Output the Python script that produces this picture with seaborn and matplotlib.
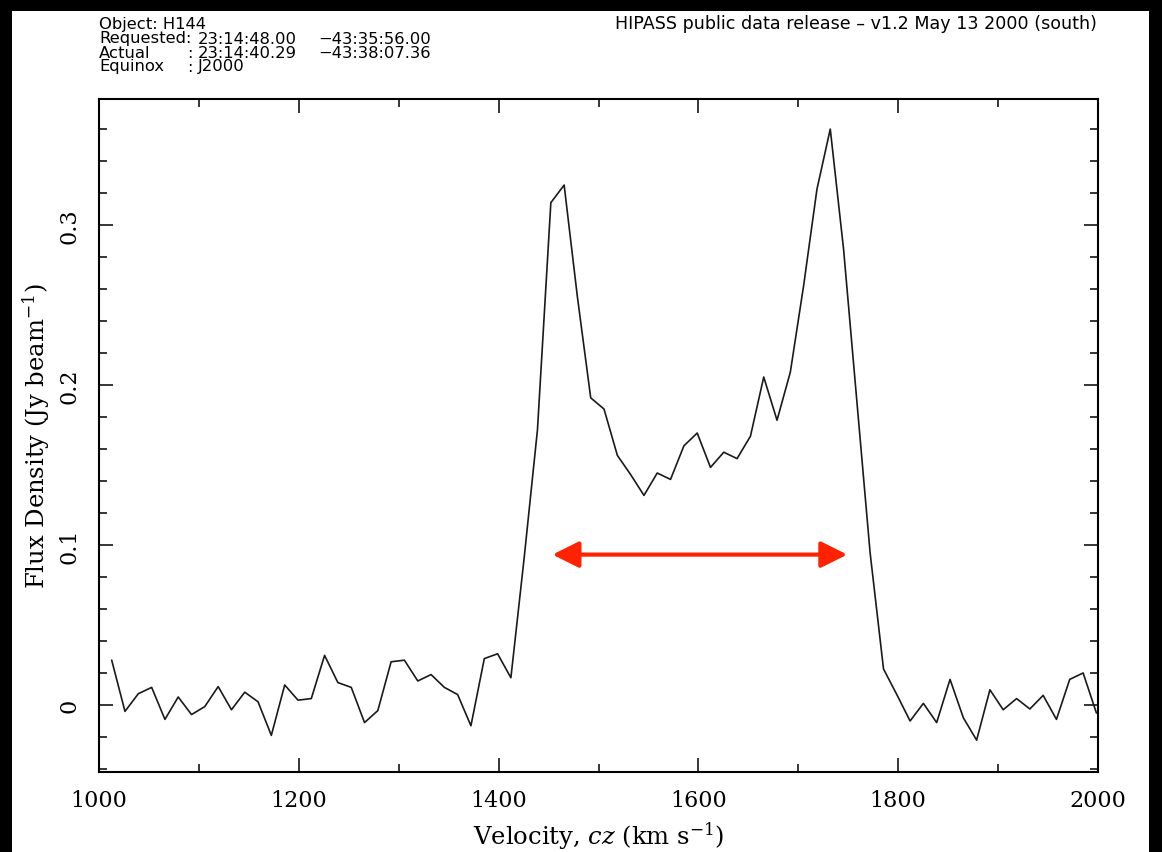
import numpy as np
import pandas as pd
import seaborn as sns
import matplotlib.pyplot as plt
from matplotlib.patches import Rectangle
from matplotlib.ticker import MultipleLocator

# HIPASS spectrum of H144
velocity = [
    1012.7, 1026.0, 1039.3, 1052.7, 1066.0, 1079.3, 1092.6, 1105.9, 1119.3, 1132.6,
    1145.9, 1159.2, 1172.5, 1185.9, 1199.2, 1212.5, 1225.8, 1239.1, 1252.5, 1265.8,
    1279.1, 1292.4, 1305.7, 1319.1, 1332.4, 1345.7, 1359.0, 1372.3, 1385.7, 1399.0,
    1412.3, 1425.6, 1438.9, 1452.3, 1465.6, 1478.9, 1492.2, 1505.5, 1518.9, 1532.2,
    1545.5, 1558.8, 1572.1, 1585.5, 1598.8, 1612.1, 1625.4, 1638.7, 1652.1, 1665.4,
    1678.7, 1692.0, 1705.3, 1718.7, 1732.0, 1745.3, 1758.6, 1771.9, 1785.3, 1798.6,
    1811.9, 1825.2, 1838.5, 1851.9, 1865.2, 1878.5, 1891.8, 1905.1, 1918.5, 1931.8,
    1945.1, 1958.4, 1971.7, 1985.1, 1998.4,
]
flux = [
    0.028, -0.004, 0.007, 0.011, -0.009, 0.005, -0.006, -0.001, 0.0115, -0.003,
    0.008, 0.002, -0.019, 0.0125, 0.003, 0.004, 0.031, 0.014, 0.011, -0.011,
    -0.0035, 0.027, 0.028, 0.015, 0.019, 0.011, 0.0065, -0.013, 0.029, 0.032,
    0.017, 0.092, 0.172, 0.314, 0.325, 0.255, 0.192, 0.185, 0.156, 0.144,
    0.131, 0.145, 0.141, 0.162, 0.170, 0.1485, 0.158, 0.154, 0.168, 0.205,
    0.178, 0.208, 0.262, 0.3225, 0.360, 0.285, 0.190, 0.095, 0.0225, 0.0065,
    -0.010, 0.001, -0.011, 0.016, -0.008, -0.022, 0.0095, -0.003, 0.004, -0.0025,
    0.006, -0.009, 0.016, 0.020, -0.005,
]
xticks = [1000, 1200, 1400, 1600, 1800, 2000]
yticks = [0, 0.1, 0.2, 0.3]
ytick_labels = ["0", "0.1", "0.2", "0.3"]

# width marker across the profile
arrow_start = 1454
arrow_end = 1749
arrow_level = 0.094

header_left = [
    ("Object: H144", None, None),
    ("Requested:", "23:14:48.00", "\u221243:35:56.00"),
    ("Actual", "23:14:40.29", "\u221243:38:07.36"),
    ("Equinox", "J2000", None),
]
header_right = "HIPASS public data release \u2013 v1.2 May 13 2000 (south)"

df = pd.DataFrame({"velocity": velocity, "flux": flux})

sns.set_style("ticks")
plt.rcParams["font.family"] = ["DejaVu Serif"]
plt.rcParams["mathtext.fontset"] = "dejavuserif"

W, H = 1162, 853
fig = plt.figure(figsize=(W / 100, H / 100), dpi=100, facecolor="black")


def fx(px):
    return px / W


def fy(py):
    return 1 - py / H


# white page inside the black frame
fig.add_artist(Rectangle((fx(12), 0), fx(1149) - fx(12), fy(12), transform=fig.transFigure,
                         facecolor="white", edgecolor="none", zorder=0))

ax = fig.add_axes([fx(99), fy(773), fx(1098) - fx(99), fy(100) - fy(773)])
ax.set_facecolor("white")

sns.lineplot(data=df, x="velocity", y="flux", ax=ax, color="#1a1a1a", linewidth=1.2, sort=False)

ax.annotate("", xy=(arrow_end, arrow_level), xytext=(arrow_start, arrow_level),
            arrowprops=dict(arrowstyle="<|-|>,head_length=1.0,head_width=0.5",
                            color="#ff2200", lw=3.0, mutation_scale=16,
                            shrinkA=0, shrinkB=0))

ax.set_xlim(1000, 2000)
ax.set_ylim(-0.0419, 0.3788)
ax.set_xticks(xticks)
ax.set_xticklabels([str(t) for t in xticks])
ax.set_yticks(yticks)
ax.set_yticklabels(ytick_labels, rotation=90, va="center")
ax.xaxis.set_minor_locator(MultipleLocator(100))
ax.yaxis.set_minor_locator(MultipleLocator(0.02))
ax.tick_params(which="both", direction="in", top=True, right=True, color="black", width=1.1)
ax.tick_params(which="major", length=10, labelsize=16, labelcolor="black")
ax.tick_params(which="minor", length=5.5)
ax.tick_params(axis="x", which="major", pad=12)
ax.tick_params(axis="y", which="major", pad=13)
for side in ax.spines.values():
    side.set_linewidth(1.5)
    side.set_color("black")

ax.set_xlabel("Velocity, $cz$ (km s$^{-1}$)", fontsize=17.5, color="black")
ax.set_ylabel("Flux Density (Jy beam$^{-1}$)", fontsize=17.5, color="black")
ax.xaxis.set_label_coords(0.5, -0.071)
ax.yaxis.set_label_coords(-0.047, 0.5)

# header block in the PGPLOT style
hdr = dict(fontsize=11.8, family=["DejaVu Sans"], color="black", va="center")
line_y = [25, 39, 53, 67]
for (label, val1, val2), yy in zip(header_left, line_y):
    fig.text(fx(99), fy(yy), label, **hdr)
    if val1 is None:
        continue
    if not label.endswith(":"):
        fig.text(fx(187), fy(yy), ":", **hdr)
    fig.text(fx(198), fy(yy), val1, **hdr)
    if val2 is not None:
        fig.text(fx(318), fy(yy), val2, **hdr)
fig.text(fx(1097), fy(24), header_right, ha="right", **dict(hdr, fontsize=12.6))

fig.savefig("out.png", dpi=100, facecolor="black")
